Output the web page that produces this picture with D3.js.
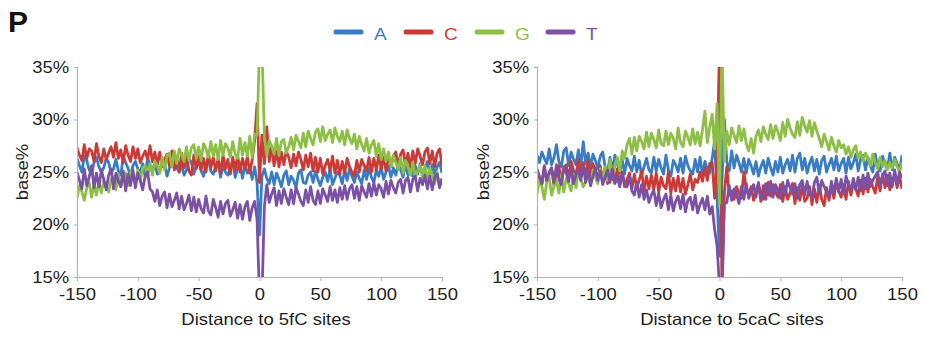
<!DOCTYPE html>
<html>
<head>
<meta charset="utf-8">
<title>base% around 5fC / 5caC sites</title>
<script src="https://cdn.jsdelivr.net/npm/d3@7"></script>
<style>
  body { margin: 0; background: #fff; }
  text { font-family: "Liberation Sans", Arial, sans-serif; }
</style>
</head>
<body>
<script>
// distance to site, every 2 bp from -150 to 150
const dist = d3.range(-150, 151, 2);
const bases = ["A", "C", "G", "T"];
const colors = ["#3a7cc3", "#cb3a37", "#8cbf44", "#7b51a6"];
const yTicks = [15, 20, 25, 30, 35];
const xTicks = [-150, -100, -50, 0, 50, 100, 150];

// 5fC panel
const fcA = [
  26.3,25.6,25.0,26.5,26.1,25.2,24.8,25.9,26.4,25.5,
  25.0,25.4,26.3,25.9,24.9,25.3,26.2,25.1,24.7,26.5,
  25.9,25.3,24.7,25.6,26.0,25.3,24.9,25.8,24.6,26.3,
  25.7,25.1,25.9,24.8,25.0,26.2,25.7,24.6,25.4,26.0,
  26.1,25.4,25.0,25.7,24.7,25.2,26.3,25.9,24.8,25.6,
  25.9,25.1,24.6,25.8,26.2,25.1,24.8,25.5,25.9,24.5,
  25.6,25.0,24.7,25.4,26.0,24.5,25.3,25.8,24.4,25.6,
  24.9,25.4,24.3,25.5,24.0,
  19.0,
  24.6,25.3,24.4,23.9,25.0,23.8,24.9,24.3,23.6,24.7,
  25.1,23.8,24.6,24.2,23.5,24.9,25.2,24.0,23.9,24.7,
  25.0,24.0,25.1,24.3,23.7,24.5,25.0,24.1,25.3,23.8,
  24.4,25.0,24.7,23.9,25.2,24.2,25.3,24.6,24.0,25.0,
  24.4,23.9,25.2,24.3,25.4,24.5,24.0,25.2,24.6,25.5,
  24.3,25.0,25.6,24.5,25.4,24.7,25.7,25.2,24.5,25.8,
  24.7,25.5,24.6,25.6,24.8,25.8,24.6,25.4,26.0,24.9,
  25.7,24.7,25.5,25.9,24.9
];
const fcC = [
  27.3,26.6,26.1,27.6,26.3,27.2,27.0,26.0,27.7,26.5,
  25.9,27.2,26.2,26.8,27.4,26.4,27.8,26.3,27.1,25.9,
  27.5,26.6,26.0,27.4,26.3,27.2,25.9,26.5,27.0,26.2,
  27.5,26.0,26.9,25.7,26.9,25.5,26.2,26.7,25.6,27.0,
  25.2,26.5,25.0,26.8,25.4,26.5,25.1,24.7,26.6,25.3,
  26.5,25.2,26.3,25.0,26.8,25.4,26.4,25.1,26.3,24.9,
  26.6,25.3,26.2,24.8,26.4,25.2,26.6,25.0,26.3,25.3,
  26.5,24.9,26.2,28.0,31.5,
  24.0,
  28.5,25.8,29.3,26.0,27.4,25.6,27.0,25.5,26.9,25.7,
  27.0,26.4,25.4,26.7,25.6,26.9,26.2,25.2,26.6,25.5,
  26.8,25.1,26.4,25.0,26.3,24.8,25.6,26.2,25.1,26.5,
  24.9,26.1,24.8,26.0,24.9,26.3,25.5,25.0,24.6,26.1,
  25.0,26.2,25.6,25.1,26.4,25.0,26.3,25.2,26.6,25.3,
  26.4,25.1,26.7,25.5,26.5,26.9,25.5,26.7,27.1,25.6,
  26.8,25.4,27.0,25.8,27.2,26.5,25.7,26.9,27.3,25.8,
  27.0,25.5,26.8,27.2,25.6
];
const fcG = [
  22.5,23.7,23.1,22.3,23.5,24.0,22.6,23.8,22.8,24.1,
  23.0,24.2,23.6,23.1,24.3,24.6,23.3,24.8,23.6,24.5,
  24.9,23.7,25.0,24.4,23.9,25.2,24.1,25.4,25.6,24.5,
  25.8,24.7,26.0,25.6,24.9,26.4,25.2,26.6,26.8,25.5,
  27.0,25.8,27.2,26.6,26.0,27.4,26.1,27.3,27.6,26.3,
  27.4,26.1,27.7,27.2,26.4,27.9,26.5,27.6,26.2,28.0,
  26.6,27.7,27.3,26.4,27.9,26.7,26.3,28.2,26.6,27.8,
  26.5,28.4,26.4,28.6,28.5,
  37.0,
  37.0,28.4,26.5,28.0,27.5,26.7,28.2,26.6,27.9,28.1,
  26.8,27.4,28.3,27.1,28.5,27.9,27.3,28.7,27.4,28.9,
  28.2,27.6,28.8,29.1,27.9,29.3,28.0,28.6,29.0,27.8,
  29.2,28.4,27.9,28.9,27.6,29.0,28.2,27.7,28.6,27.2,
  28.4,27.6,27.0,28.2,26.8,27.6,28.0,26.5,27.7,26.2,
  27.2,26.0,26.9,25.5,26.6,25.9,25.2,26.4,24.9,26.1,
  25.5,24.7,25.9,24.5,25.1,25.7,24.4,25.6,24.1,25.4,
  24.7,23.9,25.0,23.7,24.3
];
const fcT = [
  25.0,24.2,23.4,25.3,23.7,24.5,25.6,23.5,24.9,23.6,
  25.2,24.3,23.3,24.7,25.3,23.4,24.9,24.1,23.6,25.1,
  23.2,24.8,23.7,25.2,23.5,24.9,24.2,23.3,24.6,25.0,
  23.4,23.1,22.2,23.3,21.8,22.7,23.1,21.6,22.9,21.7,
  22.3,23.0,21.5,22.7,21.4,22.0,22.8,21.3,22.6,21.2,
  22.4,21.5,21.1,22.7,21.3,20.9,22.4,21.6,20.7,22.2,
  21.0,22.0,22.3,20.8,21.4,22.1,20.6,21.9,20.5,21.7,
  22.2,20.4,21.6,22.2,20.5,
  13.0,
  13.0,21.7,23.8,22.1,22.9,23.5,21.8,23.2,22.0,23.4,
  22.6,21.9,23.3,22.0,23.5,22.9,22.2,21.8,23.3,22.1,
  23.6,22.3,21.9,23.2,22.0,23.4,22.8,22.2,23.6,22.3,
  23.3,22.1,23.5,22.4,23.7,22.4,23.4,23.8,22.5,23.6,
  22.3,23.7,23.1,22.6,23.9,22.7,24.0,22.8,23.8,23.4,
  22.6,24.1,22.9,24.2,23.5,23.0,24.0,24.3,23.0,24.2,
  24.5,23.1,24.3,24.6,23.2,24.4,23.8,24.7,23.4,24.6,
  23.3,24.5,24.8,23.5,24.4
];

// 5caC panel
const cacA = [
  26.6,25.9,26.9,26.3,25.8,27.2,25.7,26.4,27.6,26.0,
  25.5,27.0,27.3,25.6,26.9,26.2,25.7,27.1,25.5,27.9,
  25.8,26.8,25.4,26.7,26.1,25.3,26.5,26.9,25.5,25.0,
  26.4,25.2,26.6,25.8,24.9,26.2,24.8,26.3,25.6,25.1,
  26.5,25.0,26.1,24.7,25.5,26.3,25.2,24.9,26.4,25.1,
  26.2,25.4,24.8,26.6,25.2,24.6,26.1,25.7,25.0,26.3,
  24.9,26.5,25.6,25.1,24.8,26.2,25.0,26.4,24.7,26.0,
  25.3,24.9,26.3,28.0,22.5,
  17.0,
  24.0,30.0,26.0,25.1,27.0,25.4,26.6,25.9,25.0,26.3,
  24.9,26.2,25.6,24.8,26.0,24.6,25.5,26.1,24.9,26.3,
  25.4,24.7,26.0,25.0,26.4,24.9,25.7,26.2,25.1,26.6,
  25.0,26.3,26.8,25.2,26.3,24.9,25.8,26.4,25.1,26.2,
  24.8,26.1,26.5,25.0,25.7,26.3,25.2,26.5,25.1,25.8,
  26.3,24.9,26.4,25.3,25.9,26.7,25.1,26.2,26.6,25.2,
  26.4,25.6,25.0,26.7,25.4,25.1,26.5,25.8,25.3,26.8,
  25.2,26.4,25.8,25.1,26.6
];
const cacC = [
  25.2,24.4,23.8,25.5,24.1,24.8,25.3,23.7,25.1,25.6,
  24.0,25.3,25.7,24.3,26.0,25.2,24.6,26.2,24.8,25.9,
  24.5,26.1,24.7,25.8,25.0,24.4,25.6,24.2,25.4,23.9,
  25.2,24.4,24.0,25.3,23.8,25.0,23.6,24.3,24.9,23.4,
  24.8,23.5,24.2,25.1,23.2,24.6,23.4,24.7,23.3,24.9,
  23.1,24.5,23.7,23.4,25.0,23.0,24.4,23.2,24.6,23.1,
  24.4,22.9,23.8,24.8,23.3,24.3,24.0,25.0,24.1,25.4,
  24.2,25.8,25.9,22.5,26.0,
  37.0,
  14.0,23.0,25.5,22.8,23.2,22.4,23.6,23.0,22.5,25.0,
  23.4,22.8,23.6,22.3,23.1,23.9,22.2,23.7,22.4,24.0,
  22.7,23.8,23.1,22.6,23.8,22.2,23.6,22.4,23.0,23.9,
  22.0,23.5,22.3,23.7,22.2,22.5,23.6,21.9,23.4,22.1,
  23.8,22.4,21.8,23.5,22.3,23.7,22.5,24.0,23.2,22.6,
  23.8,22.4,24.1,22.8,23.9,23.4,22.7,24.2,22.9,24.4,
  23.1,24.3,23.6,23.0,24.5,23.2,24.8,23.5,24.7,23.3,
  24.1,24.7,23.5,24.6,23.4
];
const cacG = [
  22.9,24.3,23.6,22.4,24.0,24.5,22.8,23.7,24.2,23.0,
  24.7,23.1,24.4,23.9,23.2,24.8,23.5,25.0,24.3,23.6,
  24.1,24.9,23.7,25.2,24.5,23.9,25.3,24.1,25.5,24.2,
  26.2,24.5,25.6,26.4,25.1,27.0,26.3,27.6,28.2,26.7,
  28.3,27.0,28.4,27.9,27.2,28.8,27.4,28.7,28.1,27.3,
  29.0,27.7,27.5,28.9,27.6,28.7,28.2,27.2,29.2,27.8,
  27.4,28.9,28.3,27.6,29.1,27.7,28.8,27.5,29.0,30.8,
  27.8,29.3,30.5,27.2,31.5,
  22.0,
  37.0,26.0,28.9,27.6,29.2,28.5,27.8,29.4,28.0,29.1,
  27.7,27.0,28.2,26.8,28.4,29.0,27.9,29.3,28.6,28.1,
  29.5,28.2,29.4,28.8,28.0,29.7,28.4,30.0,29.2,28.6,
  28.3,29.8,28.5,30.2,29.4,28.8,29.9,28.4,29.7,28.9,
  28.2,27.4,28.6,27.9,27.1,28.3,27.5,26.9,28.0,27.3,
  27.6,26.7,27.4,26.4,27.1,27.5,26.3,26.9,26.0,26.8,
  26.3,25.6,26.7,25.9,25.3,26.4,25.5,26.1,25.2,25.9,
  25.4,26.2,25.5,25.0,25.9
];
const cacT = [
  25.3,24.6,23.9,25.6,24.2,25.0,25.4,24.0,25.7,24.3,
  23.8,25.5,24.9,24.1,25.4,23.9,24.7,25.3,24.2,25.6,
  24.0,25.2,23.7,24.6,25.4,24.2,25.1,23.8,24.5,25.2,
  24.0,25.3,23.9,24.5,23.6,24.9,24.0,23.6,24.6,23.2,
  22.8,24.1,22.6,23.8,22.4,23.3,22.1,22.8,23.3,21.8,
  23.0,21.6,22.4,22.9,21.4,22.8,21.3,22.2,22.7,21.5,
  22.9,21.2,22.3,22.6,21.4,22.8,21.1,21.9,22.5,21.4,
  22.7,21.0,21.7,19.5,18.0,
  14.0,
  13.0,22.0,22.1,23.7,22.3,23.4,22.9,22.0,23.6,22.4,
  23.9,22.5,23.2,23.8,22.6,24.0,22.7,22.4,23.9,22.8,
  24.1,22.6,23.8,23.2,22.5,24.0,22.8,24.2,23.5,22.9,
  23.9,22.5,23.8,24.2,22.8,24.1,23.0,22.5,24.0,24.5,
  22.9,24.2,23.6,23.1,22.7,24.1,23.0,24.4,23.1,24.3,
  22.9,24.6,23.8,23.2,24.4,23.3,24.5,23.2,24.7,23.4,
  24.9,23.6,24.2,24.6,25.0,23.6,24.7,25.1,23.7,24.9,
  23.6,25.2,23.8,25.0,24.4
];

const W = 925, H = 338;
const stretch = 1.12; // the original text is a bit wide

const svg = d3.select("body").append("svg")
  .attr("width", W)
  .attr("height", H);

const panels = [
  { id: "fc", x0: 77, x1: 442, ylab: 22, xlabX: 266, title: "Distance to 5fC sites", series: [fcA, fcC, fcG, fcT] },
  { id: "cac", x0: 537, x1: 902, ylab: 483, xlabX: 732, title: "Distance to 5caC sites", series: [cacA, cacC, cacG, cacT] }
];

const y = d3.scaleLinear().domain([15, 35]).range([277, 67]);

panels.forEach(function (p) {
  p.series.forEach(function (s, i) {
    if (s.length !== dist.length) console.error(p.id + " " + bases[i] + " has " + s.length + " values");
  });

  let x = d3.scaleLinear().domain([-150, 150]).range([p.x0, p.x1]);
  let g = svg.append("g");

  g.append("clipPath").attr("id", "clip-" + p.id)
    .append("rect")
    .attr("x", p.x0).attr("y", y(35))
    .attr("width", p.x1 - p.x0).attr("height", y(15) - y(35));

  // lines
  let line = d3.line()
    .x(function (d, i) { return x(dist[i]); })
    .y(function (d) { return y(d); });

  g.append("g").attr("clip-path", "url(#clip-" + p.id + ")")
    .selectAll("path")
    .data(p.series)
    .enter().append("path")
    .attr("d", line)
    .attr("fill", "none")
    .attr("stroke", function (d, i) { return colors[i]; })
    .attr("stroke-width", 2.8)
    .attr("stroke-linejoin", "round");

  // axes (plain hyphen for negatives, like the original)
  let yAxis = g.append("g")
    .attr("transform", "translate(" + p.x0 + ",0)")
    .call(d3.axisLeft(y).tickValues(yTicks).tickSize(3).tickPadding(4)
      .tickFormat(function (d) { return d + "%"; }));
  let xAxis = g.append("g")
    .attr("transform", "translate(0," + y(15) + ")")
    .call(d3.axisBottom(x).tickValues(xTicks).tickSize(4)
      .tickFormat(function (d) { return String(d); }));

  [yAxis, xAxis].forEach(function (a) {
    a.select(".domain").attr("stroke", "#b4b4b4").attr("stroke-width", 1.2);
    a.selectAll(".tick line").attr("stroke", "#b4b4b4");
    a.selectAll(".tick text")
      .attr("fill", "#1e1e1e")
      .attr("font-size", 16.5)
      .attr("transform", "scale(" + stretch + ",1)");
  });
  xAxis.selectAll(".tick text").attr("y", 23).attr("dy", 0);

  // axis titles
  g.append("text")
    .attr("transform", "translate(" + p.ylab + "," + y(25) + ") rotate(-90) scale(" + stretch + ",1)")
    .attr("text-anchor", "middle")
    .attr("dy", "0.35em")
    .attr("font-size", 16.5)
    .attr("fill", "#1e1e1e")
    .text("base%");

  g.append("text")
    .attr("transform", "translate(" + p.xlabX + ",325) scale(" + stretch + ",1)")
    .attr("text-anchor", "middle")
    .attr("font-size", 16.5)
    .attr("fill", "#1e1e1e")
    .text(p.title);
});

// panel letter
svg.append("text")
  .attr("x", 8).attr("y", 32)
  .attr("font-size", 30)
  .attr("font-weight", "bold")
  .attr("fill", "#111")
  .text("P");

// legend
const legendX = [334, 404, 475, 546];
let legend = svg.selectAll(".legend")
  .data(bases)
  .enter().append("g")
  .attr("class", "legend")
  .attr("transform", function (d, i) { return "translate(" + legendX[i] + ",0)"; });

legend.append("line")
  .attr("x1", 2).attr("x2", 27)
  .attr("y1", 32).attr("y2", 32)
  .attr("stroke", function (d, i) { return colors[i]; })
  .attr("stroke-width", 5)
  .attr("stroke-linecap", "round");

legend.append("text")
  .attr("transform", "translate(40,40) scale(" + stretch + ",1)")
  .attr("font-size", 17)
  .attr("fill", function (d, i) { return colors[i]; })
  .text(function (d) { return d; });
</script>
</body>
</html>
